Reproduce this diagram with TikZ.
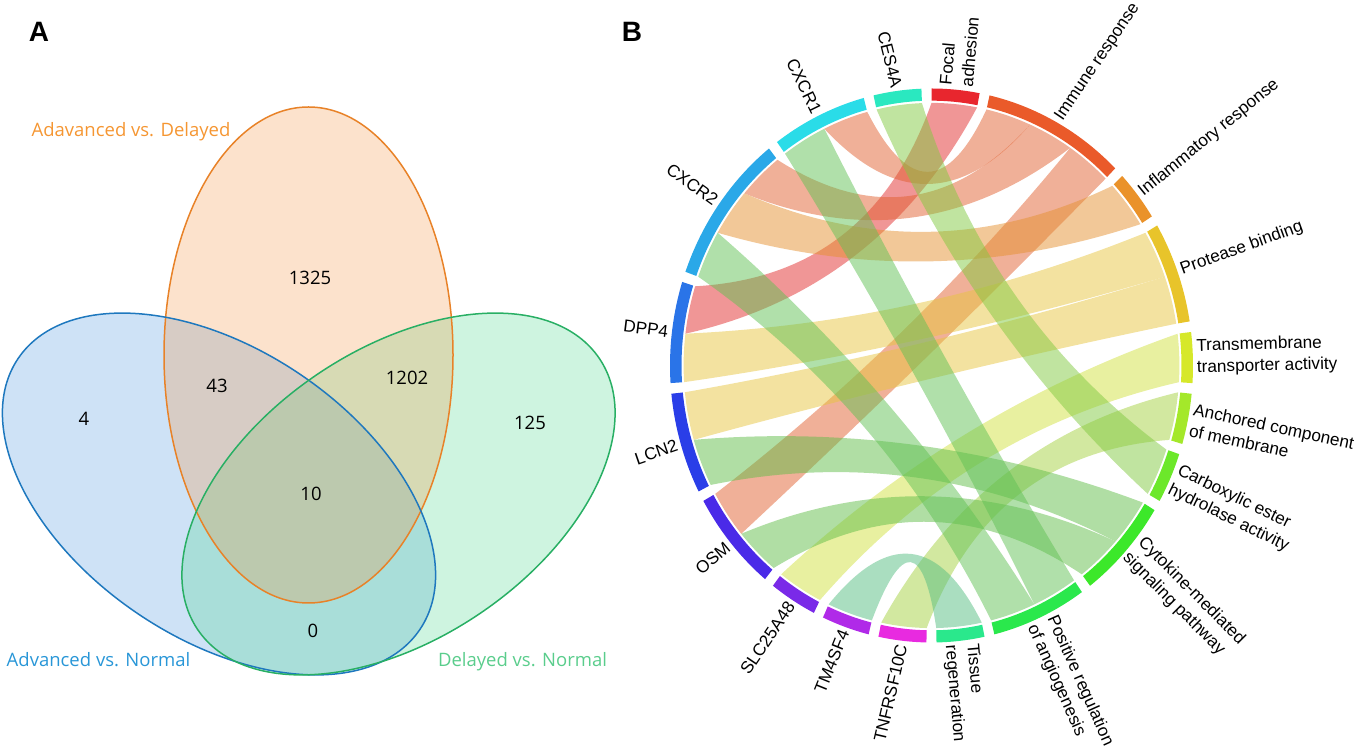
\documentclass[tikz,border=0pt]{standalone}
\usepackage{fontspec}
\setmainfont{Liberation Sans}
\newfontfamily\vennfont{Open Sans}
% Venn colours
\definecolor{vbS}{RGB}{30,120,190}
\definecolor{vbF}{RGB}{60,140,220}
\definecolor{vgS}{RGB}{40,175,100}
\definecolor{vgF}{RGB}{60,210,130}
\definecolor{voS}{RGB}{232,130,40}
\definecolor{voF}{RGB}{245,140,50}
\definecolor{tOr}{RGB}{245,150,50}
\definecolor{tBl}{RGB}{40,150,215}
\definecolor{tGr}{RGB}{90,205,140}
% ring colours
\definecolor{rFocal}{RGB}{232,38,46}
\definecolor{rImm}{RGB}{234,90,42}
\definecolor{rInf}{RGB}{234,146,42}
\definecolor{rPro}{RGB}{232,196,42}
\definecolor{rTra}{RGB}{214,232,42}
\definecolor{rAnc}{RGB}{164,232,42}
\definecolor{rCar}{RGB}{108,232,42}
\definecolor{rCyt}{RGB}{60,232,42}
\definecolor{rPos}{RGB}{42,232,76}
\definecolor{rTis}{RGB}{42,232,140}
\definecolor{rTNF}{RGB}{232,42,224}
\definecolor{rTM}{RGB}{176,42,232}
\definecolor{rSLC}{RGB}{122,42,232}
\definecolor{rOSM}{RGB}{74,42,232}
\definecolor{rLCN}{RGB}{42,62,232}
\definecolor{rDPP}{RGB}{42,116,232}
\definecolor{rCXb}{RGB}{42,168,232}
\definecolor{rCXa}{RGB}{42,220,232}
\definecolor{rCES}{RGB}{42,232,192}
% chord colours
\definecolor{cFocal}{RGB}{225,45,45}
\definecolor{cImm}{RGB}{225,97,49}
\definecolor{cInf}{RGB}{229,145,49}
\definecolor{cPro}{RGB}{231,197,65}
\definecolor{cTra}{RGB}{209,225,65}
\definecolor{cAnc}{RGB}{165,209,65}
\definecolor{cCar}{RGB}{129,201,65}
\definecolor{cCyt}{RGB}{97,189,73}
\definecolor{cPos}{RGB}{97,193,85}
\definecolor{cTis}{RGB}{85,189,129}
\usetikzlibrary{calc}
\tikzset{
  lab/.style={font=\fontsize{17.2}{21.5}\selectfont, inner sep=1.5pt, text=black},
  vtxt/.style={font=\vennfont\fontsize{18.5}{22}\selectfont, inner sep=0pt},
  panel/.style={font=\fontsize{28}{30}\selectfont\bfseries, inner sep=0pt, anchor=base},
  chordfill/.style={fill opacity=0.5}
}
\def\rr{0.948}
\def\lr{1.008}
\newcommand\seg[3]{%
  \fill[#3] (#1:1pt) arc[start angle=#1, end angle=#2, radius=1pt]
    -- (#2:0.956pt) arc[start angle=#2, end angle=#1, radius=0.956pt] -- cycle;}
\newcommand\rib[5]{%
  \pgfmathsetmacro\cax{\rr*(0.5067*cos(#2)+0.1733*cos(#3))}%
  \pgfmathsetmacro\cay{\rr*(0.5067*sin(#2)+0.1733*sin(#3))}%
  \pgfmathsetmacro\cbx{\rr*(0.1733*cos(#2)+0.5067*cos(#3))}%
  \pgfmathsetmacro\cby{\rr*(0.1733*sin(#2)+0.5067*sin(#3))}%
  \pgfmathsetmacro\ccx{\rr*(0.5067*cos(#4)+0.1733*cos(#1))}%
  \pgfmathsetmacro\ccy{\rr*(0.5067*sin(#4)+0.1733*sin(#1))}%
  \pgfmathsetmacro\cdx{\rr*(0.1733*cos(#4)+0.5067*cos(#1))}%
  \pgfmathsetmacro\cdy{\rr*(0.1733*sin(#4)+0.5067*sin(#1))}%
  \fill[#5, chordfill] (#1:\rr pt) arc[start angle=#1, end angle=#2, radius=\rr pt]
    .. controls (\cax,\cay) and (\cbx,\cby) .. (#3:\rr pt)
    arc[start angle=#3, end angle=#4, radius=\rr pt]
    .. controls (\ccx,\ccy) and (\cdx,\cdy) .. (#1:\rr pt) -- cycle;}
% #1 position angle, #2 rotation, #3 name, #4 text
\newcommand\rlab[4]{\node[lab, anchor=west, rotate=#2, align=left] (#3) at (#1:\lr pt) {#4};}
\newcommand\llab[4]{\node[lab, anchor=east, rotate=#2] (#3) at (#1:\lr pt) {#4};}
\begin{document}
\begin{tikzpicture}[x=1pt,y=1pt]
\useasboundingbox (0,0) rectangle (1358,750);
% ---------------- Panel A : Venn ----------------
\fill[vbF, fill opacity=0.25, rotate around={-34:(219,256)}] (219,256) ellipse[x radius=242.3pt, y radius=144.6pt];
\fill[vgF, fill opacity=0.25, rotate around={34:(398.5,256)}] (398.5,256) ellipse[x radius=242.3pt, y radius=144.6pt];
\fill[voF, fill opacity=0.25] (308.5,395) ellipse[x radius=144.5pt, y radius=248pt];
\draw[voS, line width=1.5pt] (308.5,395) ellipse[x radius=144.5pt, y radius=248pt];
\draw[vbS, line width=1.5pt, rotate around={-34:(219,256)}] (219,256) ellipse[x radius=242.3pt, y radius=144.6pt];
\draw[vgS, line width=1.5pt, rotate around={34:(398.5,256)}] (398.5,256) ellipse[x radius=242.3pt, y radius=144.6pt];
\node[panel] (pA) at (39,708) {A};
\node[panel] (pB) at (632,708) {B};
\node[vtxt, text=tOr, anchor=base] (lAD) at (131,613.3) {Adavanced vs. Delayed};
\node[vtxt, text=tBl, anchor=base] (lAN) at (98.5,83.3) {Advanced vs. Normal};
\node[vtxt, text=tGr, anchor=base] (lDN) at (522.5,83.3) {Delayed vs. Normal};
\node[vtxt] (n1325) at (310,472) {1325};
\node[vtxt] (n43) at (217,364) {43};
\node[vtxt] (n1202) at (407,372) {1202};
\node[vtxt] (n4) at (84,331) {4};
\node[vtxt] (n125) at (530,327) {125};
\node[vtxt] (n10) at (311,256) {10};
\node[vtxt] (n0) at (313,119) {0};
% ---------------- Panel B : chord diagram ----------------
\begin{scope}[shift={(931.5,384.5)}, xscale=261.5, yscale=277]
% ring segments
\seg{79.4}{90}{rFocal}
\seg{92.21}{102.81}{rCES}
\seg{105.02}{126.22}{rCXa}
\seg{128.43}{160.23}{rCXb}
\seg{162.44}{183.64}{rDPP}
\seg{185.85}{207.05}{rLCN}
\seg{209.26}{230.46}{rOSM}
\seg{232.67}{243.27}{rSLC}
\seg{245.48}{256.08}{rTM}
\seg{258.29}{268.89}{rTNF}
\seg{271.1}{281.7}{rTis}
\seg{283.91}{305.11}{rPos}
\seg{307.32}{328.52}{rCyt}
\seg{330.73}{341.33}{rCar}
\seg{343.54}{354.14}{rAnc}
\seg{356.35}{366.95}{rTra}
\seg{369.16}{390.36}{rPro}
\seg{392.57}{403.17}{rInf}
\seg{405.38}{437.18}{rImm}
% chords
\rib{162.44}{173.04}{79.4}{90}{cFocal}
\rib{105.02}{115.62}{66.58}{77.18}{cImm}
\rib{128.43}{139.03}{55.98}{66.58}{cImm}
\rib{209.26}{219.86}{45.38}{55.98}{cImm}
\rib{139.03}{149.63}{32.57}{43.17}{cInf}
\rib{173.04}{183.64}{19.76}{30.36}{cPro}
\rib{185.85}{196.45}{9.16}{19.76}{cPro}
\rib{232.67}{243.27}{-3.65}{6.95}{cTra}
\rib{258.29}{268.89}{-16.46}{-5.86}{cAnc}
\rib{92.21}{102.81}{-29.27}{-18.67}{cCar}
\rib{219.86}{230.46}{-52.68}{-42.08}{cCyt}
\rib{196.45}{207.05}{-42.08}{-31.48}{cCyt}
\rib{149.63}{160.23}{-76.09}{-65.49}{cPos}
\rib{115.62}{126.22}{-65.49}{-54.89}{cPos}
\rib{245.48}{256.08}{-88.9}{-78.3}{cTis}
% labels
\rlab{84.7}{85}{tFocal}{Focal\\adhesion}
\rlab{61.28}{56}{tImm}{Immune response}
\rlab{37.87}{39}{tInf}{Inflammatory response}
\rlab{19.76}{20}{tPro}{Protease binding}
\rlab{1.65}{1.5}{tTra}{Transmembrane\\transporter activity}
\rlab{-11.16}{-12}{tAnc}{Anchored component\\of membrane}
\rlab{-23.97}{-26}{tCar}{Carboxylic ester\\hydrolase activity}
\rlab{-40.5}{-45}{tCyt}{Cytokine-mediated\\signaling pathway}
\rlab{-65.49}{-66}{tPos}{Positive regulation\\of angiogenesis}
\rlab{-83.6}{-85}{tTis}{Tissue\\regeneration}
\llab{263.59}{77}{tTNF}{TNFRSF10C}
\llab{250.78}{68}{tTM}{TM4SF4}
\llab{237.97}{56}{tSLC}{SLC25A48}
\llab{219.86}{40}{tOSM}{OSM}
\llab{196.45}{19}{tLCN}{LCN2}
\llab{173.04}{-7}{tDPP}{DPP4}
\llab{144.33}{-35.5}{tCXb}{CXCR2}
\llab{115.62}{-64}{tCXa}{CXCR1}
\llab{97.51}{-76}{tCES}{CES4A}
\end{scope}
\end{tikzpicture}
\end{document}
